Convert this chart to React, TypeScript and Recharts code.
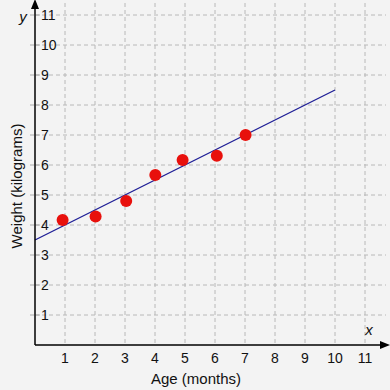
import { CartesianGrid, ReferenceLine, Scatter, ScatterChart, XAxis, YAxis } from "recharts";

const ageMonths = [0.92, 2.02, 3.04, 4.01, 4.92, 6.06, 7.02];
const weightKg = [4.17, 4.28, 4.8, 5.67, 6.17, 6.31, 7.0];
const fitX = [0, 10];
const fitY = [3.5, 8.5];
const axisTicks = [1, 2, 3, 4, 5, 6, 7, 8, 9, 10, 11];

const points = ageMonths.map((x, i) => ({ x, y: weightKg[i] }));
const fitSegment = fitX.map((x, i) => ({ x, y: fitY[i] }));

const FONT = '"Liberation Sans", Arial, sans-serif';
const AXIS_X = 35;

function YTick(props: any) {
  const { y, payload } = props;
  return (
    <g>
      <line x1={AXIS_X - 5} x2={AXIS_X + 5} y1={y} y2={y} stroke="#aaa" strokeDasharray="4 2" />
      <text x={AXIS_X + 6} y={y} dy="0.36em" fontSize={14} fontFamily={FONT} fill="#111">
        {payload.value}
      </text>
    </g>
  );
}

function Dot(props: any) {
  return <circle cx={props.cx} cy={props.cy} r={6} fill="#e8100c" />;
}

export default function App() {
  return (
    <div style={{ position: "fixed", left: 0, top: 0, width: 390, height: 390, background: "#f3f3f3" }}>
      <svg width={0} height={0} style={{ position: "absolute" }}>
        <defs>
          <marker id="arrowHead" viewBox="0 0 10 10" refX={6} refY={5} markerWidth={10} markerHeight={10} markerUnits="userSpaceOnUse" orient="auto-start-reverse">
            <path d="M0,1 L10,5 L0,9 z" fill="#000" />
          </marker>
        </defs>
      </svg>
      <ScatterChart width={390} height={390} margin={{ top: 3, right: 4, left: AXIS_X - 1, bottom: 44 }}>
        <CartesianGrid
          stroke="#b8b8b8"
          strokeDasharray="4 3"
          horizontalValues={axisTicks}
          verticalValues={axisTicks}
        />
        <XAxis
          type="number"
          dataKey="x"
          domain={[0, 11.7]}
          ticks={axisTicks}
          height={1}
          tickLine={false}
          axisLine={{ stroke: "#000", strokeWidth: 1.5, markerEnd: "url(#arrowHead)" }}
          tick={{ fontSize: 14, fontFamily: FONT, fill: "#111" }}
        />
        <YAxis
          type="number"
          dataKey="y"
          domain={[0, 11.4]}
          ticks={axisTicks}
          width={1}
          tickSize={0}
          tickMargin={0}
          tickLine={false}
          axisLine={{ stroke: "#000", strokeWidth: 1.5, markerStart: "url(#arrowHead)" }}
          tick={<YTick />}
        />
        <ReferenceLine segment={fitSegment} stroke="#1e1e96" strokeWidth={1.3} />
        <Scatter data={points} shape={<Dot />} isAnimationActive={false} />
      </ScatterChart>
      <svg width={390} height={390} style={{ position: "absolute", left: 0, top: 0, pointerEvents: "none" }}>
        <text x={23} y={22} textAnchor="middle" fontSize={15} fontStyle="italic" fontFamily={FONT} fill="#111">y</text>
        <text x={369} y={335} textAnchor="middle" fontSize={15} fontStyle="italic" fontFamily={FONT} fill="#111">x</text>
        <text x={196} y={384} textAnchor="middle" fontSize={15} fontFamily={FONT} fill="#111">Age (months)</text>
        <text x={0} y={0} transform="translate(22,186) rotate(-90)" textAnchor="middle" fontSize={15} fontFamily={FONT} fill="#111">
          Weight (kilograms)
        </text>
      </svg>
    </div>
  );
}
